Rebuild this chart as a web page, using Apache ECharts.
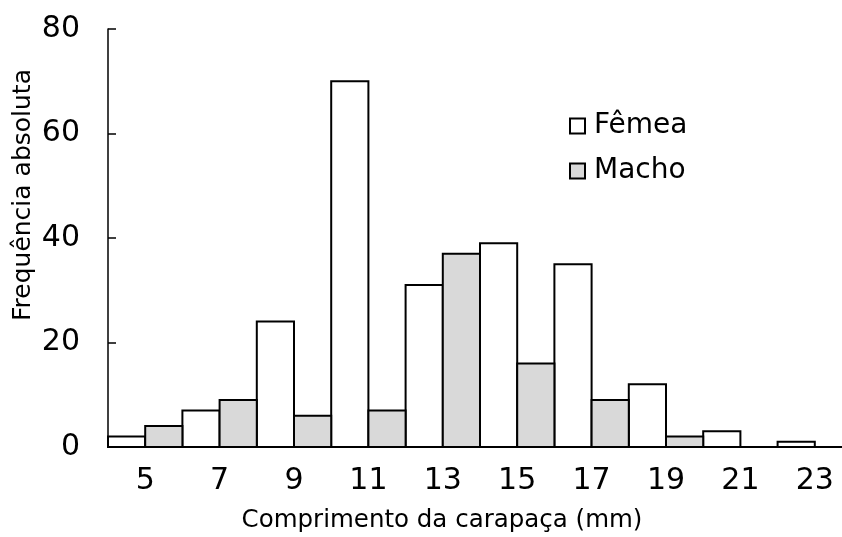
<!DOCTYPE html>
<html>
<head>
<meta charset="utf-8">
<script src="https://cdn.jsdelivr.net/npm/echarts@6/dist/echarts.min.js"></script>
<style>
html,body{margin:0;padding:0;background:#fff;}
#chart{width:842px;height:537px;}
</style>
</head>
<body>
<div id="chart"></div>
<script>
const categories = ['5','7','9','11','13','15','17','19','21','23'];
const femea = [2,7,24,70,31,39,35,12,3,1];
const macho = [4,9,6,7,37,16,9,2,0,0];
const yTicks = [0,20,40,60,80];

const FONT = '"DejaVu Sans", sans-serif';

function halfBar(side, fill){
  return function(params, api){
    const idx = api.value(0), v = api.value(1);
    const bw = api.size([1,0])[0];
    const c = api.coord([idx, 0]);
    const t = api.coord([idx, v]);
    const x = side === 0 ? c[0] - bw/2 : c[0];
    return {
      type:'rect',
      shape:{x:x, y:t[1], width:bw/2, height:c[1]-t[1]},
      style:{fill:fill, stroke:'#000', lineWidth:2}
    };
  };
}

const chart = echarts.init(document.getElementById('chart'), null, {renderer:'canvas'});
chart.setOption({
  animation:false,
  backgroundColor:'#fff',
  grid:{left:108, top:29, width:744, height:418, containLabel:false, outerBoundsMode:'none'},
  legend:{
    orient:'vertical', left:564, top:106,
    itemWidth:15, itemHeight:15, itemGap:15,
    icon:'rect',
    textStyle:{fontFamily:FONT, fontSize:28, color:'#000', lineHeight:30, padding:[0,0,0,4]},
    data:['Fêmea','Macho']
  },
  xAxis:{
    type:'category', data:categories, boundaryGap:true,
    axisLine:{show:true, lineStyle:{color:'#000', width:2}},
    axisTick:{show:false},
    axisLabel:{fontFamily:FONT, fontSize:30, color:'#000', margin:19},
    splitLine:{show:false},
    z:10
  },
  yAxis:{
    type:'value', min:yTicks[0], max:yTicks[yTicks.length-1], interval:20,
    axisLine:{show:true, lineStyle:{color:'#000', width:1.5}},
    axisTick:{show:true, inside:true, length:8, lineStyle:{color:'#000', width:1.5}},
    axisLabel:{fontFamily:FONT, fontSize:30, color:'#000', margin:28},
    splitLine:{show:false},
    z:10
  },
  graphic:[
    {type:'text', x:442, y:521, style:{text:'Comprimento da carapaça (mm)', font:'24.5px '+FONT, fill:'#000', align:'center', verticalAlign:'middle'}},
    {type:'text', x:23, y:195, rotation:Math.PI/2, style:{text:'Frequência absoluta', font:'25px '+FONT, fill:'#000', align:'center', verticalAlign:'middle'}}
  ],
  series:[
    {name:'Fêmea', type:'custom', renderItem:halfBar(0,'#ffffff'),
     encode:{x:0, y:1},
     data:femea.map((v,i)=>[i,v]),
     itemStyle:{color:'#ffffff', borderColor:'#000', borderWidth:2}},
    {name:'Macho', type:'custom', renderItem:halfBar(1,'#d9d9d9'),
     encode:{x:0, y:1},
     data:macho.map((v,i)=>[i,v]),
     itemStyle:{color:'#d9d9d9', borderColor:'#000', borderWidth:2}}
  ]
});
</script>
</body>
</html>
